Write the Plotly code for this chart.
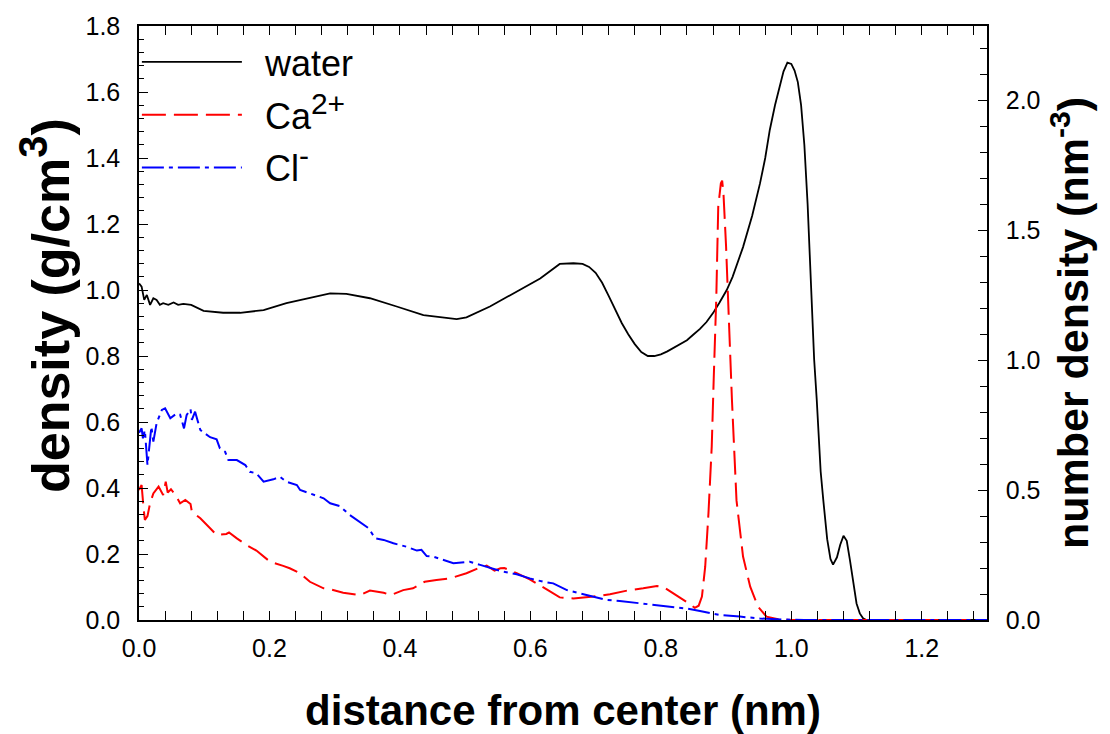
import plotly.graph_objects as go

# ---- data ----
water_x = [0.0, 0.004, 0.008, 0.012, 0.017, 0.022, 0.027, 0.032, 0.037, 0.045, 0.053, 0.060, 0.068,
           0.080, 0.099, 0.129, 0.155, 0.191, 0.226, 0.262, 0.293, 0.318, 0.354, 0.395, 0.436,
           0.487, 0.502, 0.538, 0.574, 0.615, 0.645, 0.666, 0.680, 0.690, 0.700, 0.710, 0.720,
           0.730, 0.740, 0.750, 0.760, 0.770, 0.780, 0.790, 0.800, 0.810, 0.820, 0.830, 0.840,
           0.850, 0.860, 0.870, 0.880, 0.890, 0.901, 0.910, 0.926, 0.940, 0.952, 0.960, 0.967,
           0.975, 0.983, 0.988, 0.994, 1.000, 1.005, 1.010, 1.015, 1.020, 1.025, 1.030, 1.035,
           1.039, 1.045, 1.049, 1.055, 1.060, 1.064, 1.070, 1.075, 1.080, 1.085, 1.090, 1.095,
           1.100, 1.105, 1.110, 1.115, 1.13, 1.2, 1.3]
water_y = [1.02, 1.01, 0.97, 0.985, 0.955, 0.975, 0.97, 0.955, 0.96, 0.955, 0.962, 0.955, 0.958,
           0.955, 0.937, 0.931, 0.931, 0.939, 0.960, 0.975, 0.990, 0.988, 0.975, 0.950, 0.924,
           0.912, 0.917, 0.950, 0.990, 1.035, 1.079, 1.081, 1.079, 1.070, 1.052, 1.022, 0.982,
           0.940, 0.900, 0.866, 0.836, 0.812, 0.800, 0.800, 0.805, 0.814, 0.825, 0.835, 0.848,
           0.865, 0.882, 0.903, 0.930, 0.962, 1.000, 1.040, 1.130, 1.225, 1.323, 1.400, 1.485,
           1.560, 1.626, 1.662, 1.689, 1.685, 1.665, 1.630, 1.560, 1.440, 1.260, 1.020, 0.790,
           0.667, 0.450, 0.364, 0.245, 0.185, 0.168, 0.190, 0.228, 0.255, 0.240, 0.180, 0.111,
           0.050, 0.020, 0.005, 0.0, 0.0, 0.0, 0.0]

ca_x = [0.0, 0.004, 0.007, 0.009, 0.013, 0.017, 0.022, 0.030, 0.037, 0.041, 0.044, 0.049, 0.056,
        0.063, 0.071, 0.079, 0.081, 0.094, 0.109, 0.119, 0.134, 0.138, 0.150, 0.165, 0.180,
        0.191, 0.201, 0.221, 0.231, 0.247, 0.262, 0.283, 0.292, 0.313, 0.339, 0.354, 0.375,
        0.386, 0.405, 0.420, 0.438, 0.456, 0.477, 0.502, 0.520, 0.533, 0.545, 0.554, 0.560,
        0.579, 0.599, 0.625, 0.645, 0.666, 0.697, 0.722, 0.748, 0.773, 0.794, 0.804, 0.824,
        0.839, 0.852, 0.858, 0.863, 0.868, 0.873, 0.878, 0.881, 0.885, 0.888, 0.892, 0.894,
        0.896, 0.900, 0.903, 0.909, 0.916, 0.926, 0.937, 0.949, 0.962, 0.978, 1.0, 1.3]
ca_y = [0.50, 0.519, 0.43, 0.385, 0.40, 0.449, 0.487, 0.513, 0.481, 0.532, 0.49, 0.503, 0.48,
        0.449, 0.462, 0.446, 0.417, 0.391, 0.353, 0.327, 0.331, 0.337, 0.314, 0.288, 0.267,
        0.246, 0.224, 0.208, 0.199, 0.180, 0.147, 0.122, 0.119, 0.105, 0.096, 0.113, 0.105,
        0.096, 0.115, 0.122, 0.147, 0.154, 0.160, 0.180, 0.199, 0.209, 0.19, 0.199, 0.200,
        0.180, 0.156, 0.118, 0.087, 0.083, 0.090, 0.099, 0.113, 0.122, 0.131, 0.127, 0.096,
        0.070, 0.047, 0.055, 0.090, 0.205, 0.410, 0.667, 0.923, 1.24, 1.59, 1.68, 1.69,
        1.64, 1.436, 1.23, 0.846, 0.46, 0.244, 0.128, 0.051, 0.013, 0.004, 0.0, 0.0]

cl_x = [0.0, 0.004, 0.006, 0.009, 0.013, 0.016, 0.019, 0.022, 0.027, 0.035, 0.040, 0.048, 0.058,
        0.063, 0.069, 0.073, 0.079, 0.081, 0.086, 0.094, 0.109, 0.119, 0.124, 0.132, 0.137,
        0.150, 0.163, 0.170, 0.180, 0.191, 0.206, 0.216, 0.226, 0.242, 0.247, 0.262, 0.283,
        0.293, 0.308, 0.323, 0.339, 0.352, 0.362, 0.375, 0.390, 0.410, 0.426, 0.433, 0.441,
        0.451, 0.482, 0.507, 0.523, 0.533, 0.558, 0.579, 0.599, 0.620, 0.635, 0.656, 0.676,
        0.697, 0.717, 0.737, 0.758, 0.788, 0.819, 0.840, 0.860, 0.880, 0.891, 0.921, 0.952,
        0.985, 1.02, 1.3]
cl_y = [0.72, 0.737, 0.699, 0.73, 0.596, 0.667, 0.744, 0.686, 0.757, 0.808, 0.814, 0.776, 0.795,
        0.790, 0.737, 0.788, 0.811, 0.770, 0.801, 0.731, 0.703, 0.695, 0.660, 0.647, 0.615,
        0.615, 0.596, 0.570, 0.564, 0.532, 0.541, 0.551, 0.532, 0.519, 0.500, 0.487, 0.468,
        0.449, 0.438, 0.404, 0.374, 0.353, 0.314, 0.308, 0.295, 0.282, 0.267, 0.270, 0.246,
        0.244, 0.218, 0.224, 0.212, 0.205, 0.186, 0.176, 0.160, 0.147, 0.141, 0.115, 0.103,
        0.090, 0.077, 0.073, 0.067, 0.060, 0.051, 0.044, 0.035, 0.026, 0.019, 0.013, 0.006,
        0.002, 0.0, 0.0]

names = ["\u2002water",
         "\u2002Ca<sup><span style='font-size:30px'>2+</span></sup>",
         "\u2002Cl<sup><span style='font-size:30px'>-</span></sup>"]

x_title = "<b>distance from center (nm)</b>"
y_title = "<b>density (g/cm<sup><span style='font-size:40px'>3</span></sup>)</b>"
y2_title = "<b>number density (nm<sup>-3</sup>)</b>"

FONT = "Liberation Sans, Arial, Helvetica, sans-serif"

fig = go.Figure()
fig.add_trace(go.Scatter(x=water_x, y=water_y, mode="lines", name=names[0], legendgroup="a",
                         line=dict(color="black", width=1.8)))
fig.add_trace(go.Scatter(x=ca_x, y=ca_y, mode="lines", name=names[1], yaxis="y2", legendgroup="b",
                         line=dict(color="#ff0000", width=2, dash="24px,8px")))
fig.add_trace(go.Scatter(x=cl_x, y=cl_y, mode="lines", name=names[2], yaxis="y2", legendgroup="c",
                         line=dict(color="#0000ff", width=2, dash="22px,5px,4px,5px")))

axis_common = dict(showgrid=False, zeroline=False, showline=True, linecolor="black", linewidth=1.5,
                   ticks="inside", tickcolor="black", ticklen=9, tickwidth=1.2, automargin=False,
                   tickfont=dict(family=FONT, size=25, color="black"))

fig.update_layout(
    width=1110, height=734,
    margin=dict(l=139, r=123, t=26, b=114),
    plot_bgcolor="white", paper_bgcolor="white",
    font=dict(family=FONT, color="black"),
    xaxis=dict(range=[0, 1.3], dtick=0.2, tickformat=".1f", mirror="allticks",
               minor=dict(dtick=0.04, ticks="inside", ticklen=5, tickcolor="black"),
               ticklabelstandoff=5,
               title=dict(text=x_title, font=dict(family=FONT, size=42), standoff=37),
               **axis_common),
    yaxis=dict(range=[0, 1.8], dtick=0.2, tickformat=".1f",
               minor=dict(dtick=0.04, ticks="inside", ticklen=5, tickcolor="black"),
               ticklabelstandoff=12,
               **axis_common),
    yaxis2=dict(range=[0, 594 / 260], dtick=0.5, tickformat=".1f", overlaying="y", side="right",
                minor=dict(dtick=0.1, ticks="inside", ticklen=7, tickcolor="black"),
                ticklabelstandoff=12,
                title=dict(text=y2_title, font=dict(family=FONT, size=43), standoff=18),
                **axis_common),
    legend=dict(x=-0.0025, y=0.99, xanchor="left", yanchor="top", bgcolor="rgba(0,0,0,0)",
                font=dict(family=FONT, size=36, color="black"), itemwidth=100,
                tracegroupgap=3),
    showlegend=True,
    annotations=[dict(text=y_title, textangle=-90, xref="paper", yref="paper",
                      x=(45 - 139) / 848, y=(620 - 306) / 594, xanchor="center", yanchor="middle",
                      showarrow=False, font=dict(family=FONT, size=52, color="black"))],
)

fig.write_html("out.html")
